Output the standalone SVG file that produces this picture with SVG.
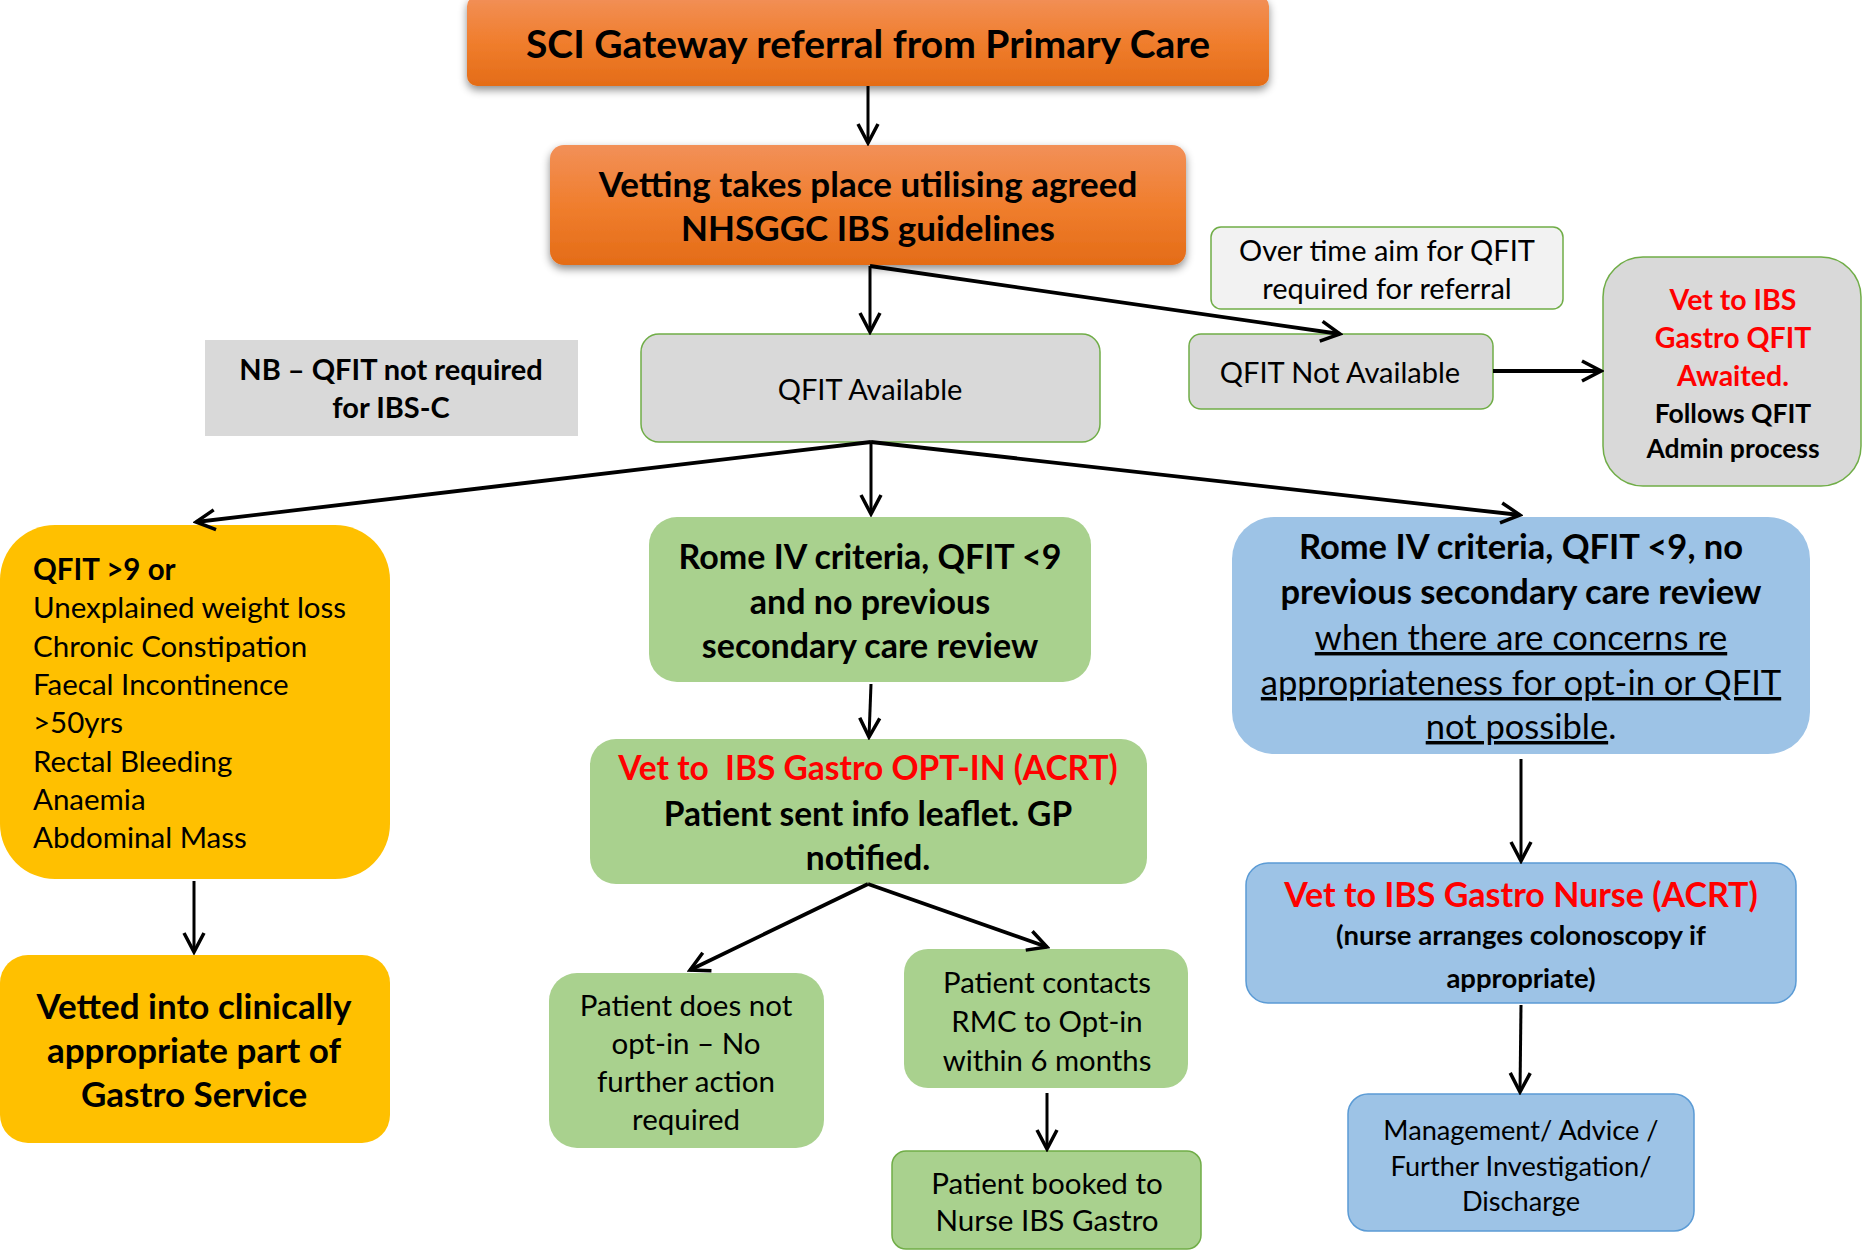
<svg xmlns="http://www.w3.org/2000/svg" width="1865" height="1253" viewBox="0 0 1865 1253">
<style>
text{font-family:Lato,"Open Sans","Liberation Sans",sans-serif;fill:#000;text-anchor:middle}
.b{font-weight:bold}
.red{fill:#FF0000;font-weight:bold}
.gray{fill:#D9D9D9;stroke:#70AD47;stroke-width:1.5}
.lgray{fill:#F2F2F2;stroke:#70AD47;stroke-width:1.5}
.green{fill:#A9D18E}
.greenS{fill:#A9D18E;stroke:#70AD47;stroke-width:1.5}
.blue{fill:#9DC3E6}
.blueS{fill:#9DC3E6;stroke:#5B9BD5;stroke-width:1.5}
.yellow{fill:#FFC000}
.orange{fill:url(#og);filter:url(#sh)}
.c line{stroke:#000;stroke-width:3;fill:none;marker-end:url(#ah)}
.c .t{stroke-width:3.8}
.u{text-decoration:underline}
.l{text-anchor:start}
</style>
<defs>
<linearGradient id="og" x1="0" y1="0" x2="0" y2="1">
<stop offset="0" stop-color="#F29058"/>
<stop offset="0.5" stop-color="#F07E2E"/>
<stop offset="1" stop-color="#E46C17"/>
</linearGradient>
<filter id="sh" x="-5%" y="-10%" width="110%" height="130%">
<feDropShadow dx="0" dy="4" stdDeviation="4" flood-color="#000" flood-opacity="0.45"/>
</filter>
<marker id="ah" viewBox="0 0 24 24" refX="21" refY="12" markerWidth="24" markerHeight="24" markerUnits="userSpaceOnUse" orient="auto">
<path d="M2,2 L21,12 L2,22" fill="none" stroke="#000" stroke-width="3.5" stroke-linejoin="miter"/>
</marker>
</defs>
<rect width="1865" height="1253" fill="#fff"/>

<g id="n-sci">
<rect class="orange" x="467" y="-4" width="802" height="90" rx="10"/>
<text class="b" x="868" y="58" font-size="39">SCI Gateway referral from Primary Care</text>
</g>
<g id="n-vetting">
<rect class="orange" x="550" y="145" width="636" height="120" rx="14"/>
<text class="b" x="868" y="197" font-size="35">Vetting takes place utilising agreed</text>
<text class="b" x="868" y="241" font-size="35">NHSGGC IBS guidelines</text>
</g>
<g id="n-overtime">
<rect class="lgray" x="1211" y="227" width="352" height="82" rx="10"/>
<text x="1387" y="261" font-size="29">Over time aim for QFIT</text>
<text x="1387" y="299" font-size="29">required for referral</text>
</g>
<g id="n-awaited">
<rect class="gray" x="1603" y="257" width="258" height="229" rx="40"/>
<text class="red" x="1733" y="310" font-size="28.5">Vet to IBS</text>
<text class="red" x="1733" y="348" font-size="28.5">Gastro QFIT</text>
<text class="red" x="1733" y="386" font-size="28.5">Awaited.</text>
<text class="b" x="1733" y="423" font-size="26.5">Follows QFIT</text>
<text class="b" x="1733" y="458" font-size="26.5">Admin process</text>
</g>
<g id="n-nb">
<rect x="205" y="340" width="373" height="96" fill="#D9D9D9"/>
<text class="b" x="391" y="380" font-size="29">NB – QFIT not required</text>
<text class="b" x="391" y="418" font-size="29">for IBS-C</text>
</g>
<g id="n-avail">
<rect class="gray" x="641" y="334" width="459" height="108" rx="18"/>
<text x="870" y="400" font-size="29">QFIT Available</text>
</g>
<g id="n-notavail">
<rect class="gray" x="1189" y="334" width="304" height="75" rx="12"/>
<text x="1340" y="383" font-size="29">QFIT Not Available</text>
</g>
<g id="n-qfit9">
<rect class="yellow" x="0" y="525" width="390" height="354" rx="55"/>
<g font-size="29.5">
<text class="b l" x="33" y="580">QFIT &gt;9 or</text>
<text class="l" x="33" y="618">Unexplained weight loss</text>
<text class="l" x="33" y="657">Chronic Constipation</text>
<text class="l" x="33" y="695">Faecal Incontinence</text>
<text class="l" x="33" y="733">&gt;50yrs</text>
<text class="l" x="33" y="772">Rectal Bleeding</text>
<text class="l" x="33" y="810">Anaemia</text>
<text class="l" x="33" y="848">Abdominal Mass</text>
</g>
</g>
<g id="n-vetted">
<rect class="yellow" x="0" y="955" width="390" height="188" rx="28"/>
<text class="b" x="194" y="1019" font-size="35">Vetted into clinically</text>
<text class="b" x="194" y="1063" font-size="35">appropriate part of</text>
<text class="b" x="194" y="1107" font-size="35">Gastro Service</text>
</g>
<g id="n-rome">
<rect class="green" x="649" y="517" width="442" height="165" rx="28"/>
<text class="b" x="870" y="569" font-size="34">Rome IV criteria, QFIT &lt;9</text>
<text class="b" x="870" y="614" font-size="34">and no previous</text>
<text class="b" x="870" y="658" font-size="34">secondary care review</text>
</g>
<g id="n-optin">
<rect class="green" x="590" y="739" width="557" height="145" rx="26"/>
<text class="red" x="868" y="780" font-size="33.5" xml:space="preserve">Vet to  IBS Gastro OPT-IN (ACRT)</text>
<text class="b" x="868" y="826" font-size="33.5">Patient sent info leaflet. GP</text>
<text class="b" x="868" y="870" font-size="33.5">notified.</text>
</g>
<g id="n-romeblue">
<rect class="blue" x="1232" y="517" width="578" height="237" rx="42"/>
<text class="b" x="1521" y="559" font-size="34.5">Rome IV criteria, QFIT &lt;9, no</text>
<text class="b" x="1521" y="604" font-size="34.5">previous secondary care review</text>
<text class="u" x="1521" y="650" font-size="34.5">when there are concerns re</text>
<text class="u" x="1521" y="695" font-size="34.5">appropriateness for opt-in or QFIT</text>
<text x="1521" y="739" font-size="34.5"><tspan class="u">not possible</tspan>.</text>
</g>
<g id="n-nurse">
<rect class="blueS" x="1246" y="863" width="550" height="140" rx="22"/>
<text class="red" x="1521" y="907" font-size="34">Vet to IBS Gastro Nurse (ACRT)</text>
<text class="b" x="1521" y="945" font-size="27.5">(nurse arranges colonoscopy if</text>
<text class="b" x="1521" y="988" font-size="27.5">appropriate)</text>
</g>
<g id="n-mgmt">
<rect class="blueS" x="1348" y="1094" width="346" height="137" rx="20"/>
<text x="1521" y="1140" font-size="27.2">Management/ Advice /</text>
<text x="1521" y="1176" font-size="27.2">Further Investigation/</text>
<text x="1521" y="1211" font-size="27.2">Discharge</text>
</g>
<g id="n-noopt">
<rect class="green" x="549" y="973" width="275" height="175" rx="28"/>
<text x="686" y="1016" font-size="29.5">Patient does not</text>
<text x="686" y="1054" font-size="29.5">opt-in – No</text>
<text x="686" y="1092" font-size="29.5">further action</text>
<text x="686" y="1130" font-size="29.5">required</text>
</g>
<g id="n-contacts">
<rect class="green" x="904" y="949" width="284" height="139" rx="24"/>
<text x="1047" y="993" font-size="29.3">Patient contacts</text>
<text x="1047" y="1032" font-size="29.3">RMC to Opt-in</text>
<text x="1047" y="1071" font-size="29.3">within 6 months</text>
</g>
<g id="n-booked">
<rect class="greenS" x="892" y="1151" width="309" height="98" rx="14"/>
<text x="1047" y="1194" font-size="29.6">Patient booked to</text>
<text x="1047" y="1231" font-size="29.6">Nurse IBS Gastro</text>
</g>

<g id="connectors" class="c">
<line x1="868" y1="86" x2="868" y2="143"/>
<line x1="870" y1="266" x2="870" y2="332"/>
<line class="t" x1="870" y1="266" x2="1340" y2="334"/>
<line class="t" x1="1493" y1="371" x2="1601" y2="371"/>
<line class="t" x1="871" y1="442" x2="196" y2="522"/>
<line x1="871" y1="442" x2="871" y2="514"/>
<line class="t" x1="871" y1="442" x2="1520" y2="515"/>
<line x1="194" y1="881" x2="194" y2="952"/>
<line x1="871" y1="684" x2="869" y2="737"/>
<line class="t" x1="868" y1="884" x2="690" y2="970"/>
<line class="t" x1="868" y1="884" x2="1047" y2="947"/>
<line x1="1047" y1="1093" x2="1047" y2="1149"/>
<line x1="1521" y1="759" x2="1521" y2="861"/>
<line x1="1521" y1="1005" x2="1520" y2="1092"/>
</g>
</svg>
